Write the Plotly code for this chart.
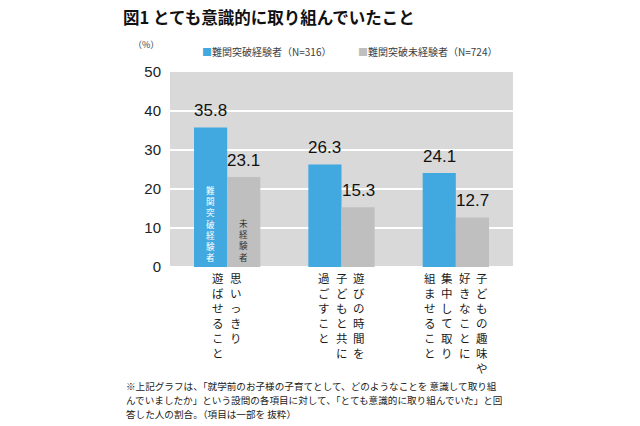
import plotly.graph_objects as go

# ---- data ----
category_lines = [
    ["思いっきり", "遊ばせること"],
    ["遊びの時間を", "子どもと共に", "過ごすこと"],
    ["子どもの趣味や", "好きなことに", "集中して取り", "組ませること"],
]
categories = ["".join(lines) for lines in category_lines]
series_names = ["難関突破経験者（N=316）", "難関突破未経験者（N=724）"]
experienced = [35.8, 26.3, 24.1]
not_experienced = [23.1, 15.3, 12.7]
inside_labels = ["難関突破経験者", "未経験者"]  # shown inside the first group's bars
y_ticks = [0, 10, 20, 30, 40, 50]
title_text = "図1 とても意識的に取り組んでいたこと"
unit_text = "（%）"
footnote_lines = [
    "※上記グラフは、「就学前のお子様の子育てとして、どのようなことを 意識して取り組",
    "んでいましたか」という設問の各項目に対して、「とても意識的に取り組んでいた」と回",
    "答した人の割合。（項目は一部を 抜粋）",
]

# ---- style ----
BLUE = "#41a8e0"
GRAY = "#bfbfbf"
BG = "#d9d9d9"
JP = "Noto Sans CJK JP"
NUM = "Liberation Sans, Arial"

W, H = 640, 426
L, R, T, B = 170, 127, 72, 159
plot_w = W - L - R
plot_h = H - T - B


def px_to_paper_x(px):
    return (px - L) / plot_w


def px_to_paper_y(py):
    return (H - B - py) / plot_h


BARGAP = 0.42
half = (1 - BARGAP) / 4  # centre offset of each bar within a group

fig = go.Figure()
fig.add_trace(go.Bar(x=list(range(len(categories))), y=experienced, name=series_names[0],
                     marker=dict(color=BLUE, line=dict(width=0)), hovertext=categories))
fig.add_trace(go.Bar(x=list(range(len(categories))), y=not_experienced, name=series_names[1],
                     marker=dict(color=GRAY, line=dict(width=0)), hovertext=categories))

annotations = []
# value labels
for i, (a, b) in enumerate(zip(experienced, not_experienced)):
    for val, off in ((a, -half), (b, half)):
        annotations.append(dict(x=i + off, y=val, xref="x", yref="y", text=f"{val:.1f}",
                                showarrow=False, yanchor="bottom", yshift=5,
                                font=dict(family=NUM, size=17, color="#111111")))

# vertical category labels (columns read right-to-left)
COL_SP = 17.5
for i, lines in enumerate(category_lines):
    n = len(lines)
    for j, line in enumerate(lines):
        annotations.append(dict(x=i, y=0, xref="x", yref="y", text="<br>".join(line),
                                showarrow=False, yanchor="top", xanchor="center",
                                xshift=((n - 1) / 2 - j) * COL_SP, yshift=-1,
                                font=dict(family=JP, size=11.5, color="#1a1a1a")))

# vertical text inside first group's bars
for lab, off, col in ((inside_labels[0], -half, "#ffffff"), (inside_labels[1], half, "#333333")):
    annotations.append(dict(x=0 + off, y=0, xref="x", yref="y", text="<br>".join(lab),
                            showarrow=False, yanchor="bottom", yshift=2,
                            font=dict(family=JP, size=8.6, color=col)))

# legend (manual)
for name, color, px in ((series_names[0], BLUE, 200), (series_names[1], GRAY, 356)):
    annotations.append(dict(x=px_to_paper_x(px), y=px_to_paper_y(52), xref="paper", yref="paper",
                            text=f"<span style='color:{color}'>■</span>{name}",
                            showarrow=False, xanchor="left", yanchor="middle",
                            font=dict(family=JP, size=10, color="#404040")))

# unit label
annotations.append(dict(x=px_to_paper_x(146), y=px_to_paper_y(44), xref="paper", yref="paper",
                        text=unit_text, showarrow=False, xanchor="center", yanchor="middle",
                        font=dict(family=JP, size=9, color="#404040")))

# footnote, one annotation per line
for n_line, line in enumerate(footnote_lines):
    annotations.append(dict(x=px_to_paper_x(124), y=px_to_paper_y(386 + n_line * 14),
                            xref="paper", yref="paper", text=line, showarrow=False,
                            xanchor="left", yanchor="middle", align="left",
                            font=dict(family=JP, size=9.6, color="#222222")))

fig.update_layout(
    width=W, height=H,
    margin=dict(l=L, r=R, t=T, b=B, pad=0),
    paper_bgcolor="white",
    plot_bgcolor=BG,
    barmode="group", bargap=BARGAP, bargroupgap=0,
    showlegend=False,
    title=dict(text=f"<b>{title_text}</b>", xref="container", yref="container",
               x=123 / W, y=1 - 18 / H, xanchor="left", yanchor="middle",
               font=dict(family=JP, size=16.5, color="#111111")),
    annotations=annotations,
    xaxis=dict(range=[-0.5, len(categories) - 0.5], showticklabels=False, showgrid=False,
               zeroline=False, showline=False, fixedrange=True),
    yaxis=dict(range=[0, 50], tickvals=y_ticks, showgrid=True, gridcolor="white", gridwidth=2,
               zeroline=True, zerolinecolor="white", zerolinewidth=2, showline=False,
               ticks="", ticklabelstandoff=8,
               tickfont=dict(family=NUM, size=15, color="#222222"), fixedrange=True),
)

fig.write_html("out.html", config={"displayModeBar": False},
               post_script="document.body.style.margin='0';")
